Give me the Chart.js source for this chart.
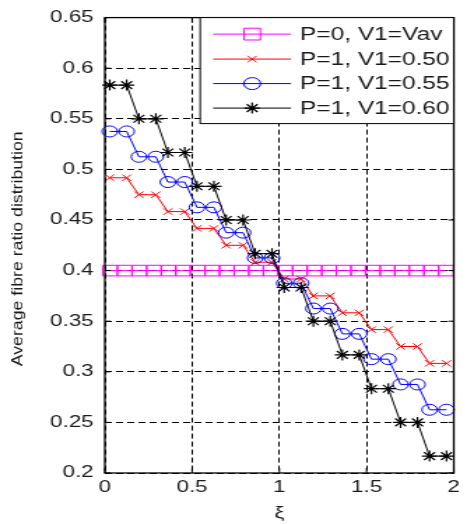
<!DOCTYPE html>
<html><head><meta charset="utf-8">
<script src="https://cdn.jsdelivr.net/npm/chart.js@4/dist/chart.umd.min.js"></script>
<style>
html,body{margin:0;padding:0;background:#fff;overflow:hidden;width:467px;height:524px;}
#wrap{position:absolute;left:0;top:0;width:334px;height:524px;transform:scaleX(1.3982);transform-origin:0 0;}
</style></head><body>
<div id="wrap"><canvas id="c"></canvas></div>
<script>
// ---- data ----
const seriesLabels = ['P=0, V1=Vav', 'P=1, V1=0.50', 'P=1, V1=0.55', 'P=1, V1=0.60'];
const xFlat = [0.030,0.114,0.197,0.281,0.365,0.448,0.532,0.616,0.699,0.783,0.867,0.950,
               1.034,1.118,1.201,1.285,1.369,1.452,1.536,1.620,1.703,1.787,1.871,1.955];
const xSteps = [0.028,0.125,0.195,0.292,0.361,0.458,0.528,0.625,0.695,0.792,0.861,0.958,
                1.028,1.125,1.195,1.292,1.361,1.458,1.528,1.625,1.695,1.792,1.861,1.958];
const vFlat = [0.4,0.4,0.4,0.4,0.4,0.4,0.4,0.4,0.4,0.4,0.4,0.4,
               0.4,0.4,0.4,0.4,0.4,0.4,0.4,0.4,0.4,0.4,0.4,0.4];
const v050 = [0.4917,0.4917,0.475,0.475,0.4583,0.4583,0.4417,0.4417,0.425,0.425,0.4083,0.4083,
              0.3917,0.3917,0.375,0.375,0.3583,0.3583,0.3417,0.3417,0.325,0.325,0.3083,0.3083];
const v055 = [0.5375,0.5375,0.5125,0.5125,0.4875,0.4875,0.4625,0.4625,0.4375,0.4375,0.4125,0.4125,
              0.3875,0.3875,0.3625,0.3625,0.3375,0.3375,0.3125,0.3125,0.2875,0.2875,0.2625,0.2625];
const v060 = [0.5833,0.5833,0.55,0.55,0.5167,0.5167,0.4833,0.4833,0.45,0.45,0.4167,0.4167,
              0.3833,0.3833,0.35,0.35,0.3167,0.3167,0.2833,0.2833,0.25,0.25,0.2167,0.2167];
const xTickValues = [0, 0.5, 1, 1.5, 2];
const xTickLabels = ['0', '0.5', '1', '1.5', '2'];
const yTickValues = [0.2, 0.25, 0.3, 0.35, 0.4, 0.45, 0.5, 0.55, 0.6, 0.65];
const yTickLabels = ['0.2', '0.25', '0.3', '0.35', '0.4', '0.45', '0.5', '0.55', '0.6', '0.65'];
const xTitle = 'ξ';
const yTitle = 'Average fibre ratio distribution';

// ---- styles ----
const FONT = '"Liberation Sans", Arial, sans-serif';
const TEXT = '#1a1a1a';
const colors = ['#ff00ff', '#ff0000', '#0000ff', '#000000'];
const styles = ['rect', 'crossRot', 'circle', 'star'];
const radii = [7.5, 4.5, 5.5, 5.5];

function pts(xs, ys) { return xs.map((x, i) => ({x: x, y: ys[i]})); }
const seriesX = [xFlat, xSteps, xSteps, xSteps];
const seriesY = [vFlat, v050, v055, v060];

const datasets = seriesLabels.map((lab, i) => ({
  label: lab,
  data: pts(seriesX[i], seriesY[i]),
  borderColor: colors[i],
  backgroundColor: 'rgba(0,0,0,0)',
  borderWidth: 1,
  pointStyle: styles[i],
  pointRadius: radii[i],
  pointBorderColor: colors[i],
  pointBackgroundColor: 'rgba(0,0,0,0)',
  pointBorderWidth: i === 3 ? 1.2 : 1,
  tension: 0,
  clip: false,
  order: 4 - i
}));

function drawMarker(ctx, style, x, y, r, color) {
  ctx.save();
  ctx.strokeStyle = color; ctx.lineWidth = 1;
  ctx.beginPath();
  if (style === 'rect') {
    const s = Math.SQRT1_2 * r;
    ctx.rect(x - s, y - s, 2 * s, 2 * s);
  } else if (style === 'circle') {
    ctx.arc(x, y, r, 0, Math.PI * 2);
  } else if (style === 'crossRot') {
    const o = Math.SQRT1_2 * r;
    ctx.moveTo(x - o, y - o); ctx.lineTo(x + o, y + o);
    ctx.moveTo(x + o, y - o); ctx.lineTo(x - o, y + o);
  } else if (style === 'star') {
    const o = Math.SQRT1_2 * r;
    ctx.lineWidth = 1.2;
    ctx.moveTo(x - r, y); ctx.lineTo(x + r, y);
    ctx.moveTo(x, y - r); ctx.lineTo(x, y + r);
    ctx.moveTo(x - o, y - o); ctx.lineTo(x + o, y + o);
    ctx.moveTo(x + o, y - o); ctx.lineTo(x - o, y + o);
  }
  ctx.stroke();
  ctx.restore();
}

const framePlugin = {
  id: 'frame',
  afterDatasetsDraw(chart) {
    const {ctx, chartArea: a, scales} = chart;
    ctx.save();
    // inner tick marks
    ctx.strokeStyle = '#000'; ctx.lineWidth = 1;
    ctx.beginPath();
    yTickValues.forEach(v => {
      const py = scales.y.getPixelForValue(v);
      ctx.moveTo(a.left, py); ctx.lineTo(a.left + 4, py);
      ctx.moveTo(a.right, py); ctx.lineTo(a.right - 4, py);
    });
    xTickValues.forEach(v => {
      const px = scales.x.getPixelForValue(v);
      ctx.moveTo(px, a.bottom); ctx.lineTo(px, a.bottom - 5);
      ctx.moveTo(px, a.top); ctx.lineTo(px, a.top + 5);
    });
    ctx.stroke();
    // axes box
    ctx.lineWidth = 1.3;
    ctx.strokeRect(a.left, a.top, a.right - a.left, a.bottom - a.top);
    // legend box (top-right inside the axes)
    const lw = 181.4, lh = 106;
    const lx = a.right - lw, ly = a.top;
    ctx.fillStyle = '#fff';
    ctx.fillRect(lx, ly, lw, lh);
    ctx.lineWidth = 1;
    ctx.strokeRect(lx, ly, lw, lh);
    const rowY = [16.5, 41.5, 66, 90.5];
    ctx.font = '17.5px ' + FONT;
    ctx.textAlign = 'left'; ctx.textBaseline = 'middle';
    chart.data.datasets.forEach((ds, i) => {
      const y = ly + rowY[i];
      ctx.strokeStyle = colors[i]; ctx.lineWidth = 1;
      ctx.beginPath(); ctx.moveTo(lx + 9.3, y); ctx.lineTo(lx + 65, y); ctx.stroke();
      drawMarker(ctx, styles[i], lx + 37.2, y, i === 0 ? 8.3 : (i === 2 ? 6 : radii[i]), colors[i]);
      ctx.fillStyle = TEXT;
      ctx.fillText(ds.label, lx + 71.4, y + 1);
    });
    ctx.restore();
  },
  afterDraw(chart) {
    const {ctx, chartArea: a} = chart;
    const t = chart.options.scales.y.title.text;
    ctx.save();
    ctx.translate(12.5, (a.top + a.bottom) / 2 + 3.5);
    ctx.rotate(-Math.PI / 2);
    ctx.scale(1.54, 1);
    ctx.font = '11.5px ' + FONT;
    ctx.fillStyle = TEXT;
    ctx.textAlign = 'center'; ctx.textBaseline = 'middle';
    ctx.fillText(t, 0, 0);
    ctx.restore();
  }
};

new Chart(document.getElementById('c'), {
  type: 'line',
  data: {datasets: datasets},
  options: {
    responsive: true,
    maintainAspectRatio: false,
    animation: false,
    events: [],
    devicePixelRatio: 1,
    layout: {padding: {top: 15, right: 8.3, left: 0, bottom: 0}},
    plugins: {legend: {display: false}, tooltip: {enabled: false}},
    scales: {
      x: {
        type: 'linear', min: 0, max: 2,
        afterBuildTicks: s => { s.ticks = xTickValues.map(v => ({value: v})); },
        afterFit: s => { s.height = 51; },
        ticks: {
          autoSkip: false, maxRotation: 0, padding: 5, color: TEXT,
          font: {family: FONT, size: 16},
          callback: (v) => xTickLabels[xTickValues.indexOf(v)]
        },
        grid: {color: '#000', lineWidth: 1, drawTicks: false},
        border: {display: false, dash: [5, 3]},
        title: {display: true, text: xTitle, color: TEXT, font: {family: FONT, size: 16}, padding: {top: 0, bottom: 1}}
      },
      y: {
        type: 'linear', min: 0.2, max: 0.65,
        afterBuildTicks: s => { s.ticks = yTickValues.map(v => ({value: v})); },
        afterFit: s => { s.width = 75; },
        ticks: {
          autoSkip: false, padding: 8, color: TEXT,
          font: {family: FONT, size: 16},
          callback: (v) => yTickLabels[yTickValues.indexOf(v)]
        },
        grid: {color: '#000', lineWidth: 1, drawTicks: false},
        border: {display: false, dash: [5, 3]},
        title: {display: false, text: yTitle}
      }
    }
  },
  plugins: [framePlugin]
});
</script>
</body></html>
